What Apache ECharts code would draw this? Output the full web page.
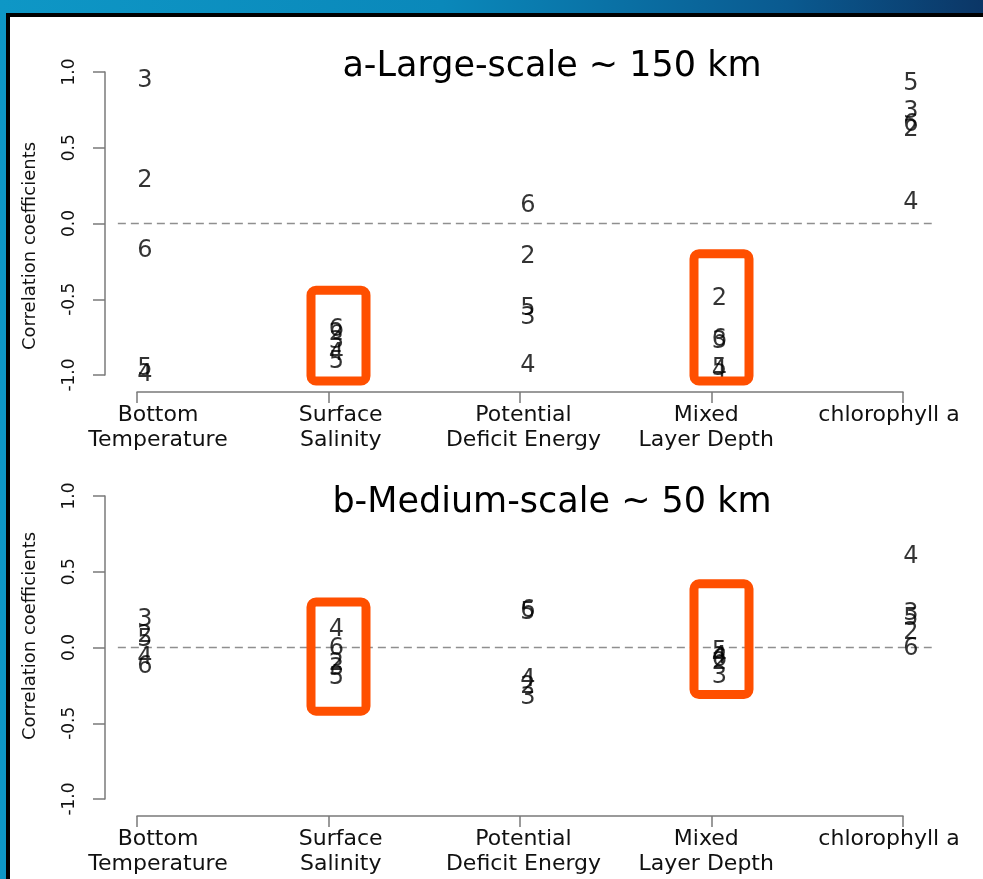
<!DOCTYPE html>
<html>
<head>
<meta charset="utf-8">
<script src="https://cdn.jsdelivr.net/npm/echarts@6/dist/echarts.min.js"></script>
<style>
  html, body { margin: 0; padding: 0; }
  body {
    width: 983px; height: 879px; overflow: hidden; position: relative;
    background: linear-gradient(90deg, #0e97c6 0%, #0a88ba 45%, #0a5a90 80%, #0b3666 100%);
  }
  #frame {
    position: absolute; left: 6px; top: 13px; right: 0; bottom: 0;
    background: #fff; border-left: 4px solid #000; border-top: 4px solid #000;
  }
  #chart { position: absolute; left: 0; top: 0; width: 983px; height: 879px; }
</style>
</head>
<body>
<div id="frame"></div>
<div id="chart"></div>
<script>
// Environmental drivers on the x axis
const categoryNames = ['Bottom\nTemperature', 'Surface\nSalinity', 'Potential\nDeficit Energy', 'Mixed\nLayer Depth', 'chlorophyll a'];
// Each point is drawn as its site number
const siteNames = ['2', '3', '4', '5', '6'];
const yTickValues = [-1, -0.5, 0, 0.5, 1];

// a - large scale (~150 km): correlation per site, one value per driver
const largeSite2 = [0.28, -0.73, -0.22, -0.50, 0.62];
const largeSite3 = [0.94, -0.78, -0.62, -0.78, 0.74];
const largeSite4 = [-1.00, -0.86, -0.94, -0.97, 0.14];
const largeSite5 = [-0.96, -0.91, -0.56, -0.96, 0.92];
const largeSite6 = [-0.18, -0.70, 0.12, -0.77, 0.65];

// b - medium scale (~50 km)
const mediumSite2 = [0.08, -0.11, -0.26, -0.10, 0.10];
const mediumSite3 = [0.18, -0.14, -0.33, -0.19, 0.22];
const mediumSite4 = [-0.07, 0.12, -0.21, -0.06, 0.60];
const mediumSite5 = [0.05, -0.20, 0.23, -0.03, 0.19];
const mediumSite6 = [-0.13, -0.01, 0.24, -0.08, -0.01];

// Highlighted drivers and the correlation span each box covers
const highlightedDrivers = ['Surface\nSalinity', 'Mixed\nLayer Depth'];
const largeBoxSpans = [[-0.44, -1.04], [-0.20, -1.04]];
const mediumBoxSpans = [[0.30, -0.42], [0.42, -0.31]];

const panels = [
  { title: 'a-Large-scale ~ 150 km', sites: [largeSite2, largeSite3, largeSite4, largeSite5, largeSite6], boxes: largeBoxSpans },
  { title: 'b-Medium-scale ~ 50 km', sites: [mediumSite2, mediumSite3, mediumSite4, mediumSite5, mediumSite6], boxes: mediumBoxSpans }
];

const FONT = 'DejaVu Sans';
const AXIS_GRAY = '#7a7a7a';
const TEXT = '#111';
const gridTops = [72, 496];
const titleCentres = [62, 498];
const yNameCentres = [246, 636];
const GRID_H = 303;
const GRID_LEFT = 137;
const GRID_W = 766;

const chart = echarts.init(document.getElementById('chart'), null, { renderer: 'canvas' });

const grids = [], xAxes = [], yAxes = [], series = [], titles = [];
panels.forEach((p, pi) => {
  grids.push({ left: GRID_LEFT, top: gridTops[pi], width: GRID_W, height: GRID_H, outerBoundsMode: 'none', containLabel: false });
  // primary axis: line and ticks at the driver positions
  xAxes.push({
    type: 'value', gridIndex: pi, position: 'bottom', min: 1, max: 5, interval: 1, offset: 17,
    axisLine: { show: true, onZero: false, lineStyle: { color: AXIS_GRAY, width: 1.5 } },
    axisTick: { show: true, inside: false, length: 11, lineStyle: { color: AXIS_GRAY, width: 1.5 } },
    axisLabel: { show: false }, splitLine: { show: false }
  });
  // label axis: driver names
  xAxes.push({
    type: 'value', gridIndex: pi, position: 'bottom', min: 0.8851, max: 5.0766, offset: 17,
    axisLine: { show: false, onZero: false }, axisTick: { show: false }, splitLine: { show: false },
    axisLabel: {
      show: true, customValues: [1, 2, 3, 4, 5], margin: 11,
      fontFamily: FONT, fontSize: 22, lineHeight: 25, color: TEXT,
      formatter: v => categoryNames[Math.round(v) - 1] || ''
    }
  });
  yAxes.push({
    type: 'value', gridIndex: pi, position: 'left', min: -1, max: 1, interval: 0.5, offset: 32,
    axisLine: { show: true, onZero: false, lineStyle: { color: AXIS_GRAY, width: 1.5 } },
    axisTick: { show: true, inside: false, length: 12, lineStyle: { color: AXIS_GRAY, width: 1.5 } },
    axisLabel: {
      show: true, rotate: 90, margin: 27, fontFamily: FONT, fontSize: 17, color: TEXT,
      customValues: yTickValues, formatter: v => v.toFixed(1)
    },
    splitLine: { show: false }
  });
  titles.push({
    text: p.title, left: 547, top: titleCentres[pi], textAlign: 'center', textVerticalAlign: 'middle',
    textStyle: { fontFamily: FONT, fontSize: 35, fontWeight: 'normal', color: '#000' }
  });
  p.sites.forEach((vals, si) => {
    series.push({
      type: 'scatter', xAxisIndex: pi * 2, yAxisIndex: pi, clip: false,
      symbolSize: 1, itemStyle: { color: 'rgba(0,0,0,0)' }, silent: true,
      label: {
        show: true, position: 'inside', offset: [8, 0], formatter: siteNames[si],
        fontFamily: FONT, fontSize: 24, color: '#000'
      },
      data: vals.map((v, ci) => [ci + 1, v])
    });
  });
});

chart.setOption({
  animation: false,
  title: titles,
  grid: grids, xAxis: xAxes, yAxis: yAxes, series: series
});

// Axis titles, zero reference lines and highlight boxes
const graphics = [];
panels.forEach((p, pi) => {
  graphics.push({
    type: 'text', silent: true, x: 30, y: yNameCentres[pi], rotation: Math.PI / 2,
    style: { text: 'Correlation coefficients', fontFamily: FONT, fontSize: 18, fill: TEXT, align: 'center', verticalAlign: 'middle' }
  });
  const finder = { xAxisIndex: pi * 2, yAxisIndex: pi };
  const a = chart.convertToPixel(finder, [0.9, 0]);
  const b = chart.convertToPixel(finder, [5.15, 0]);
  graphics.push({
    type: 'line', silent: true,
    shape: { x1: a[0], y1: a[1], x2: b[0], y2: b[1] },
    style: { stroke: '#8f8f8f', lineWidth: 1.5, lineDash: [8, 5] }
  });
  highlightedDrivers.forEach((name, hi) => {
    const col = categoryNames.indexOf(name) + 1;
    const top = chart.convertToPixel(finder, [col, p.boxes[hi][0]]);
    const bot = chart.convertToPixel(finder, [col, p.boxes[hi][1]]);
    const cx = top[0] + 10, halfW = 27.5;
    graphics.push({
      type: 'rect', silent: true, z: 10,
      shape: { x: cx - halfW, y: top[1], width: halfW * 2, height: bot[1] - top[1], r: 5 },
      style: { fill: 'none', stroke: '#ff4f00', lineWidth: 9 }
    });
  });
});
chart.setOption({ graphic: graphics });
</script>
</body>
</html>
